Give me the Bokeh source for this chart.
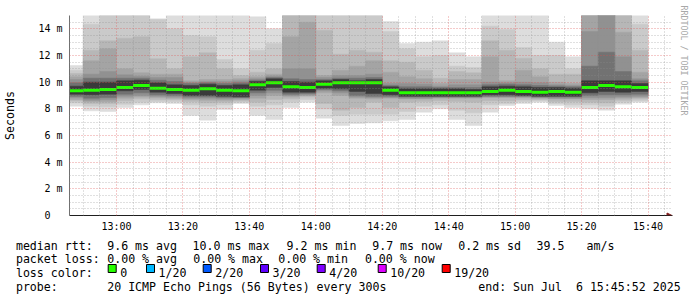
import pandas as pd
from bokeh.plotting import figure
from bokeh.models import (Range1d, FixedTicker, DatetimeTickFormatter, Title,
                          Arrow, NormalHead, ColumnDataSource)
from bokeh.core.properties import value
from bokeh.embed import file_html
from bokeh.resources import INLINE

MONO = "DejaVu Sans Mono"

# ---------------- data (milliseconds) ----------------
bucket_start = pd.date_range("2025-07-06 12:45", periods=35, freq="5min")
bucket_end = bucket_start + pd.Timedelta(minutes=5)

median = [9.35, 9.4, 9.45, 9.6, 9.75, 9.55, 9.45, 9.4, 9.5, 9.4, 9.35, 9.8, 9.95, 9.65, 9.6,
          9.85, 9.95, 9.95, 9.95, 9.4, 9.2, 9.2, 9.2, 9.2, 9.2, 9.3, 9.4, 9.3, 9.25, 9.3,
          9.25, 9.6, 9.75, 9.65, 9.6]
# smoke bands: hi1/lo1 = outermost pings ... hi7/lo7 = pings nearest the median
hi1 = [11.25, 15.5, 15.5, 15.5, 15.5, 14.75, 15.5, 15.5, 15.5, 15.5, 15.5, 14.9, 14.0, 15.5, 15.5,
       15.5, 15.5, 15.5, 15.5, 14.55, 12.9, 13.0, 13.1, 12.2, 11.9, 15.5, 15.5, 15.5, 15.5, 13.0,
       11.9, 15.5, 15.5, 15.5, 15.5]
hi2 = [10.9, 14.35, 15.5, 15.5, 15.5, 14.7, 14.0, 13.5, 13.4, 11.7, 11.0, 12.4, 12.9, 15.5, 15.5,
       15.5, 15.5, 15.5, 15.5, 13.8, 12.5, 11.9, 12.0, 11.2, 11.1, 14.2, 13.95, 12.6, 12.0, 12.0,
       11.0, 15.5, 15.5, 15.5, 14.35]
hi3 = [10.65, 12.4, 13.1, 13.3, 13.4, 11.75, 11.0, 11.9, 12.2, 11.0, 10.5, 10.75, 11.0, 15.5, 15.5,
       13.9, 12.1, 12.4, 12.25, 11.6, 11.5, 10.9, 10.3, 10.8, 10.7, 13.1, 12.4, 11.8, 11.0, 10.6,
       10.6, 15.5, 15.5, 15.5, 12.4]
hi4 = [10.4, 11.6, 12.5, 11.0, 10.7, 10.6, 10.6, 10.1, 10.2, 10.2, 10.25, 10.4, 10.6, 13.4, 14.5,
       10.5, 10.9, 11.2, 11.6, 10.75, 10.4, 10.25, 9.9, 10.2, 10.2, 11.9, 10.1, 10.9, 10.4, 10.0,
       9.9, 15.5, 15.5, 13.75, 10.75]
hi5 = [10.2, 10.6, 10.8, 10.55, 10.45, 10.35, 10.35, 10.0, 10.05, 10.05, 10.1, 10.25, 10.45, 11.0, 11.0,
       10.35, 10.5, 10.5, 10.6, 9.9, 9.9, 9.85, 9.7, 9.8, 9.8, 10.0, 9.95, 10.0, 9.95, 9.8,
       9.75, 13.8, 15.5, 11.9, 10.25]
hi6 = [9.95, 10.3, 10.3, 10.3, 10.3, 10.15, 10.05, 9.9, 9.95, 9.9, 9.95, 10.15, 10.35, 10.25, 10.2,
       10.2, 10.3, 10.3, 10.35, 9.75, 9.65, 9.65, 9.6, 9.6, 9.6, 9.8, 9.85, 9.8, 9.75, 9.7,
       9.65, 11.2, 12.25, 10.8, 10.1]
hi7 = [9.7, 10.0, 10.0, 10.1, 10.15, 9.95, 9.8, 9.75, 9.85, 9.75, 9.8, 10.05, 10.25, 10.05, 10.0,
       10.1, 10.2, 10.1, 10.2, 9.65, 9.5, 9.5, 9.5, 9.5, 9.45, 9.65, 9.7, 9.65, 9.6, 9.6,
       9.55, 10.1, 10.1, 10.1, 9.9]
lo7 = [9.1, 9.05, 9.1, 9.35, 9.45, 9.25, 9.15, 9.0, 9.0, 8.95, 8.9, 9.4, 9.6, 9.25, 9.25,
       9.55, 9.5, 9.3, 9.15, 9.05, 8.95, 8.95, 8.95, 8.95, 8.95, 9.05, 9.05, 9.0, 8.95, 8.95,
       8.95, 9.2, 9.3, 9.25, 9.3]
lo6 = [8.95, 8.8, 8.85, 9.1, 9.2, 9.05, 9.0, 8.9, 8.9, 8.85, 8.85, 9.2, 9.4, 9.1, 9.15,
       9.45, 9.35, 9.0, 8.95, 8.95, 8.9, 8.9, 8.9, 8.9, 8.9, 8.95, 8.95, 8.95, 8.9, 8.9,
       8.9, 9.0, 9.05, 9.05, 9.1]
lo5 = [8.85, 8.65, 8.7, 8.95, 9.0, 8.95, 8.9, 8.8, 8.8, 8.75, 8.8, 9.0, 9.2, 9.0, 9.05,
       9.35, 9.2, 8.9, 8.85, 8.85, 8.8, 8.8, 8.85, 8.85, 8.85, 8.9, 8.9, 8.9, 8.85, 8.8,
       8.8, 8.85, 8.85, 8.9, 8.95]
lo4 = [8.7, 8.55, 8.55, 8.8, 8.9, 8.85, 8.8, 8.7, 8.65, 8.65, 8.7, 8.8, 9.0, 8.9, 9.0,
       9.2, 9.0, 8.8, 8.75, 8.8, 8.75, 8.75, 8.8, 8.8, 8.8, 8.85, 8.85, 8.85, 8.8, 8.75,
       8.75, 8.7, 8.7, 8.8, 8.85]
lo3 = [8.6, 8.4, 8.4, 8.6, 8.75, 8.7, 8.7, 8.55, 8.45, 8.5, 8.6, 8.5, 8.7, 8.75, 8.9,
       8.4, 7.9, 8.1, 8.5, 8.1, 8.5, 8.55, 8.6, 8.55, 8.5, 8.6, 8.6, 8.7, 8.7, 8.55,
       8.55, 8.5, 8.45, 8.65, 8.75]
lo2 = [8.45, 8.2, 8.15, 8.35, 8.5, 8.55, 8.55, 8.3, 8.2, 8.3, 8.5, 8.2, 8.3, 8.5, 8.7,
       8.0, 7.5, 7.6, 7.6, 7.6, 7.8, 8.2, 8.3, 7.9, 7.7, 8.3, 8.4, 8.55, 8.6, 8.4,
       8.3, 8.3, 8.2, 8.5, 8.6]
lo1 = [8.2, 7.85, 7.8, 8.1, 8.3, 8.45, 8.4, 7.5, 7.15, 7.95, 8.4, 7.5, 7.2, 8.1, 8.5,
       7.3, 6.75, 6.9, 6.95, 7.1, 7.2, 7.75, 8.0, 7.2, 6.75, 7.75, 8.25, 8.4, 8.5, 8.25,
       8.1, 8.0, 7.9, 8.35, 8.5]

band_colors = ["#dddddd", "#cacaca", "#b7b7b7", "#a4a4a4", "#919191", "#727272", "#3a3a3a"]
median_color = "#26ff00"

y_major = [0, 2, 4, 6, 8, 10, 12, 14]
y_labels = ["0\u00a0\u00a0", "2 m", "4 m", "6 m", "8 m", "10 m", "12 m", "14 m"]
x_major_labels = ["13:00", "13:20", "13:40", "14:00", "14:20", "14:40", "15:00", "15:20", "15:40"]

rtt_names = ["avg", "max", "min", "now"]
rtt_values = [9.6, 10.0, 9.2, 9.7]
rtt_sd = 0.2
rtt_am_s = 39.5
loss_values = [0.00, 0.00, 0.00, 0.00]
loss_labels = ["0", "1/20", "2/20", "3/20", "4/20", "10/20", "19/20"]
loss_colors = ["#26ff00", "#00b8ff", "#0059ff", "#5e00ff", "#7e00ff", "#dd00ff", "#ff0000"]
probe_text = "20 ICMP Echo Pings (56 Bytes) every 300s"
end_text = "end: Sun Jul \u00a06 15:45:52 2025"

t_start = pd.Timestamp("2025-07-06 12:45:52")
t_end = pd.Timestamp("2025-07-06 15:45:52")


def to_ms(t):
    return float(pd.Timestamp(t).value // 1_000_000)


# ---------------- layout constants (pixels) ----------------
W, H = 697, 297
H1 = 235                      # main figure height
FRAME_L, FRAME_R, FRAME_T, FRAME_B = 67, 672, 15, 215
span_ms = (to_ms(t_end) - to_ms(t_start)) * (FRAME_R - FRAME_L) / 600.0
x0_ms = to_ms(t_start)
x1_ms = x0_ms + span_ms


def px_to_x(px):
    return x0_ms + (px - FRAME_L) / (FRAME_R - FRAME_L) * span_ms


p = figure(width=W, height=H1, x_axis_type="datetime",
           x_range=Range1d(x0_ms, x1_ms), y_range=Range1d(0, 15),
           output_backend="svg", toolbar_location=None,
           min_border_left=FRAME_L, min_border_right=W - FRAME_R,
           min_border_top=FRAME_T, min_border_bottom=H1 - FRAME_B)
p.outline_line_color = None
p.background_fill_color = "white"
p.border_fill_color = "white"

src = ColumnDataSource(dict(left=bucket_start, right=bucket_end, med=median,
                            hi1=hi1, hi2=hi2, hi3=hi3, hi4=hi4, hi5=hi5, hi6=hi6, hi7=hi7,
                            lo1=lo1, lo2=lo2, lo3=lo3, lo4=lo4, lo5=lo5, lo6=lo6, lo7=lo7))
for k, col in enumerate(band_colors):
    p.quad(left="left", right="right", bottom=f"lo{k+1}", top=f"hi{k+1}", source=src,
           fill_color=col, line_color=col, line_width=0.5)
p.segment(x0="left", y0="med", x1="right", y1="med", source=src,
          line_color=median_color, line_width=3, line_cap="butt")

# ticks
x_major_ms = [to_ms("2025-07-06 " + s) for s in x_major_labels]
x_minor_ms = [to_ms(t) for t in pd.date_range("2025-07-06 12:50", "2025-07-06 15:45", freq="5min")]
x_minor_ms = [t for t in x_minor_ms if t not in x_major_ms]
y_minor = [0.5 * i for i in range(1, 31) if i % 4 != 0]

xt = FixedTicker(ticks=x_major_ms, minor_ticks=x_minor_ms)
p.xaxis.ticker = xt
p.xaxis.formatter = DatetimeTickFormatter(minutes="%H:%M", hourmin="%H:%M", hours="%H:%M",
                                          minsec="%H:%M", seconds="%H:%M", days="%H:%M")
p.xaxis.major_label_overrides = dict(zip(x_major_ms, x_major_labels))
p.yaxis.ticker = FixedTicker(ticks=y_major, minor_ticks=y_minor)
p.yaxis.major_label_overrides = dict(zip(y_major, y_labels))

for ax in (p.xaxis[0], p.yaxis[0]):
    ax.major_tick_out = 0
    ax.major_tick_in = 0
    ax.minor_tick_out = 0
    ax.minor_tick_in = 0
    ax.major_label_text_font = MONO
    ax.major_label_text_font_size = "10px"
    ax.major_label_text_color = "black"
p.xaxis.axis_line_color = "#1f1f1f"
p.yaxis.axis_line_color = "#707070"
p.xaxis.major_label_standoff = 5
p.yaxis.major_label_standoff = 7
p.yaxis.axis_label = "Seconds"
p.yaxis.axis_label_text_font = MONO
p.yaxis.axis_label_text_font_size = "11.6px"
p.yaxis.axis_label_text_font_style = "normal"
p.yaxis.axis_label_text_color = "black"
p.yaxis.axis_label_standoff = 18

p.xgrid.ticker = xt
p.ygrid.ticker = FixedTicker(ticks=y_major[1:], minor_ticks=y_minor)
for g in (p.xgrid[0], p.ygrid[0]):
    g.grid_line_color = "#de4f4f"
    g.grid_line_alpha = 0.6
    g.grid_line_dash = "1 2"
    g.minor_grid_line_color = "#8f8f8f"
    g.minor_grid_line_alpha = 0.55
    g.minor_grid_line_dash = "1 2"
    g.level = "annotation"

# x-axis arrow head (inside the frame)
p.add_layout(Arrow(end=NormalHead(size=5, fill_color="#801f1f", line_color="#801f1f", line_width=1),
                   x_start=px_to_x(660), y_start=0, x_end=px_to_x(671.5), y_end=0,
                   line_color="#1f1f1f", line_width=1))

# watermark on the right
p.add_layout(Title(text="RRDTOOL / TOBI OETIKER", align="left", text_font=MONO,
                   text_font_size="8.3px", text_color="#a8a8a8", text_font_style="normal",
                   standoff=13, offset=-10), "right")

# ---------------- legend area (separate root) ----------------
H2 = H - H1
q = figure(width=W, height=H2, x_range=Range1d(0, W), y_range=Range1d(H, H1),
           output_backend="svg", toolbar_location=None, min_border=0,
           x_axis_location=None, y_axis_location=None)
q.outline_line_color = None
q.background_fill_color = "white"
q.border_fill_color = "white"
q.xgrid.visible = False
q.ygrid.visible = False

row_base = [245, 258.5, 272, 286]
texts, xs, ys = [], [], []


def add(t, x, row):
    texts.append(t)
    xs.append(x - 0.6)
    ys.append(row_base[row])


add("median rtt:", 16, 0)
rtt_x = [107.3, 192.7, 286.7, 372.3]
for v, n, x in zip(rtt_values, rtt_names, rtt_x):
    add(f"{v:.1f} ms {n}", x, 0)
add(f"{rtt_sd:.1f} ms sd", 458.3, 0)
add(f"{rtt_am_s:.1f}", 536.7, 0)
add("am/s", 586.7, 0)

add("packet loss:", 16, 1)
loss_x = [107.3, 193.3, 278.3, 365]
for v, n, x in zip(loss_values, rtt_names, loss_x):
    add(f"{v:.2f} % {n}", x, 1)

add("loss color:", 16, 2)
box_x = [107.7, 146, 202.7, 260, 316.7, 377.7, 441.7]
for lab, bx in zip(loss_labels, box_x):
    add(lab, bx + 12.6, 2)

add("probe:", 16, 3)
add(probe_text, 107.3, 3)
add(end_text, 478.3, 3)

q.text(x=xs, y=ys, text=texts, text_font=value(MONO), text_font_size=value("11.6px"),
       text_baseline="alphabetic", text_align="left", text_color="black")
q.quad(left=box_x, right=[b + 8 for b in box_x], top=[264] * len(box_x), bottom=[272] * len(box_x),
       fill_color=loss_colors, line_color="black", line_width=1)

open("out.html", "w").write(file_html([p, q], INLINE))
